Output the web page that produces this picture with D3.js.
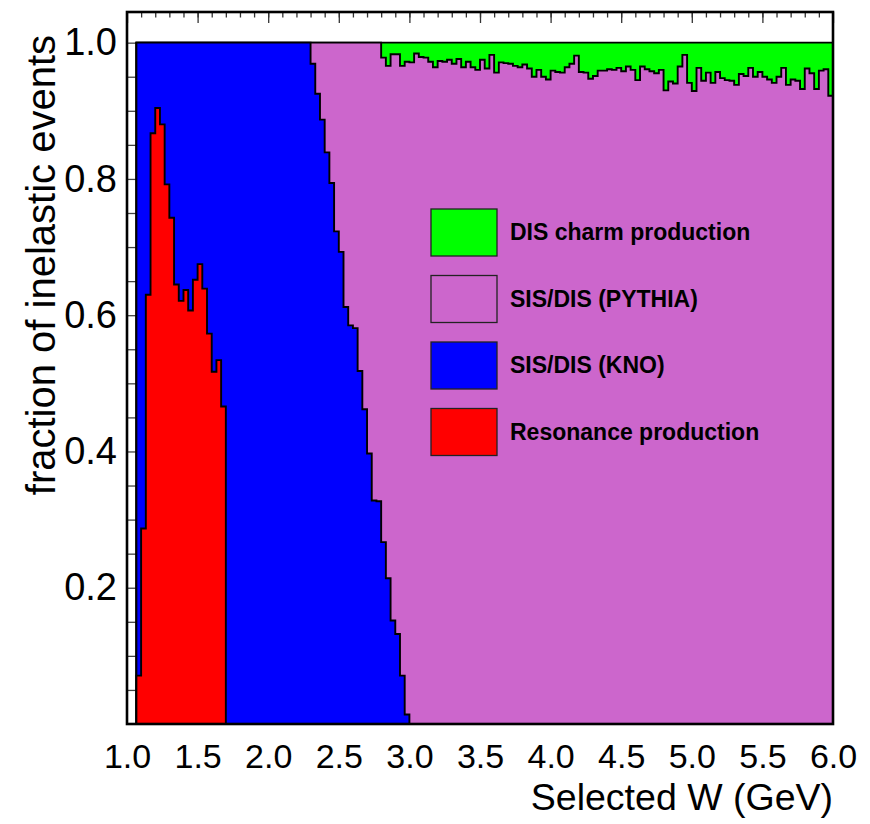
<!DOCTYPE html>
<html>
<head>
<meta charset="utf-8">
<script src="https://cdn.jsdelivr.net/npm/d3@7"></script>
<style>
  body { margin: 0; background: #fff; }
  svg { display: block; }
  text { font-family: "Liberation Sans", Arial, Helvetica, sans-serif; }
</style>
</head>
<body>
<svg id="chart" width="870" height="824"></svg>
<script>
// Histogram binning in W (GeV)
const wMin = 1.0, wMax = 6.0, nBins = 150;

// Fraction of inelastic events per bin, by process (each list starts at its first bin)
const resonanceFirstBin = 2;
const resonance = [0.071, 0.287, 0.630, 0.867, 0.904, 0.880, 0.792, 0.743, 0.645, 0.621,
                   0.637, 0.607, 0.652, 0.675, 0.639, 0.573, 0.517, 0.534, 0.466];

const knoFirstBin = 2;
const kno = [0.929, 0.713, 0.370, 0.133, 0.096, 0.120, 0.208, 0.257, 0.355, 0.379,
             0.363, 0.393, 0.348, 0.325, 0.361, 0.427, 0.483, 0.466, 0.534,
             1.000, 1.000, 1.000, 1.000, 1.000, 1.000, 1.000, 1.000, 1.000, 1.000,
             1.000, 1.000, 1.000, 1.000, 1.000, 1.000, 1.000, 1.000,
             0.969, 0.925, 0.887, 0.839, 0.794, 0.723, 0.693, 0.612, 0.585, 0.581,
             0.518, 0.462, 0.397, 0.328, 0.327, 0.267, 0.214, 0.152, 0.132, 0.071,
             0.014];

const pythiaFirstBin = 39;
const pythia = [0.031, 0.075, 0.113, 0.161, 0.206, 0.277, 0.307, 0.388, 0.415, 0.419,
                0.482, 0.538, 0.603, 0.672, 0.673,
                0.711, 0.752, 0.831, 0.851, 0.895, 0.958, 0.971, 0.984, 0.979, 0.978,
                0.972, 0.964, 0.973, 0.972, 0.975, 0.969, 0.976, 0.964, 0.972, 0.964,
                0.960, 0.975, 0.962, 0.982, 0.956, 0.971, 0.970, 0.969, 0.966, 0.964,
                0.968, 0.962, 0.950, 0.960, 0.950, 0.946, 0.959, 0.957, 0.956, 0.964,
                0.969, 0.981, 0.957, 0.956, 0.947, 0.951, 0.959, 0.959, 0.961, 0.960,
                0.963, 0.958, 0.965, 0.960, 0.945, 0.965, 0.961, 0.958, 0.955, 0.960,
                0.930, 0.943, 0.940, 0.965, 0.982, 0.941, 0.929, 0.963, 0.944, 0.956,
                0.941, 0.957, 0.948, 0.945, 0.944, 0.938, 0.954, 0.951, 0.963, 0.950,
                0.957, 0.950, 0.946, 0.941, 0.950, 0.963, 0.938, 0.946, 0.944, 0.932,
                0.962, 0.955, 0.932, 0.959, 0.961, 0.922];

const charmFirstBin = 54;
const charm = [0.022, 0.034, 0.017, 0.017, 0.034, 0.028, 0.029, 0.016, 0.021, 0.022,
               0.028, 0.036, 0.027, 0.028, 0.025, 0.031, 0.024, 0.036, 0.028, 0.036,
               0.040, 0.025, 0.038, 0.018, 0.044, 0.029, 0.030, 0.031, 0.034, 0.036,
               0.032, 0.038, 0.050, 0.040, 0.050, 0.054, 0.041, 0.043, 0.044, 0.036,
               0.031, 0.019, 0.043, 0.044, 0.053, 0.049, 0.041, 0.041, 0.039, 0.040,
               0.037, 0.042, 0.035, 0.040, 0.055, 0.035, 0.039, 0.042, 0.045, 0.040,
               0.070, 0.057, 0.060, 0.035, 0.018, 0.059, 0.071, 0.037, 0.056, 0.044,
               0.059, 0.043, 0.052, 0.055, 0.056, 0.062, 0.046, 0.049, 0.037, 0.050,
               0.043, 0.050, 0.054, 0.059, 0.050, 0.037, 0.062, 0.054, 0.056, 0.068,
               0.038, 0.045, 0.068, 0.041, 0.039, 0.078];

// Axis ticks and labels
const xLabelTicks = [1.0, 1.5, 2.0, 2.5, 3.0, 3.5, 4.0, 4.5, 5.0, 5.5, 6.0];
const xMinorTicks = d3.range(11, 60).map(v => v / 10);
const yLabelTicks = [0.2, 0.4, 0.6, 0.8, 1.0];
const yMinorTicks = d3.range(1, 21).map(v => v / 20);
const xTitle = "Selected W (GeV)";
const yTitle = "fraction of inelastic events";

// Stack order (bottom to top) and legend order (top to bottom)
const processes = [
  { key: "res",    label: "Resonance production", color: "#ff0000" },
  { key: "kno",    label: "SIS/DIS (KNO)",        color: "#0000ff" },
  { key: "pythia", label: "SIS/DIS (PYTHIA)",     color: "#cc66cc" },
  { key: "charm",  label: "DIS charm production", color: "#00ff00" }
];

const binWidth = (wMax - wMin) / nBins;
const at = (arr, first, i) => (i >= first && i - first < arr.length) ? arr[i - first] : 0;
const bins = d3.range(nBins).map(i => ({
  w0: wMin + i * binWidth,
  w1: wMin + (i + 1) * binWidth,
  res: at(resonance, resonanceFirstBin, i),
  kno: at(kno, knoFirstBin, i),
  pythia: at(pythia, pythiaFirstBin, i),
  charm: at(charm, charmFirstBin, i)
}));

const frame = { left: 127, right: 833, top: 12, bottom: 724 };
const x = d3.scaleLinear().domain([wMin, wMax]).range([frame.left, frame.right]);
const y = d3.scaleLinear().domain([0, 1.045]).range([frame.bottom, frame.top]);

const svg = d3.select("#chart");

// Tick marks sit under the histograms, as in the frame drawn first
svg.append("g")
  .attr("transform", `translate(0,${frame.top})`)
  .call(d3.axisTop(x).tickValues(xMinorTicks).tickSize(-5.5).tickFormat(""))
  .call(g => g.select(".domain").remove())
  .call(g => g.selectAll("line").attr("stroke", "#333").attr("stroke-width", 1.3));
svg.append("g")
  .attr("transform", `translate(0,${frame.top})`)
  .call(d3.axisTop(x).tickValues(xLabelTicks).tickSize(-11).tickFormat(""))
  .call(g => g.select(".domain").remove())
  .call(g => g.selectAll("line").attr("stroke", "#333").attr("stroke-width", 1.3));
svg.append("g")
  .attr("transform", `translate(${frame.left},0)`)
  .call(d3.axisRight(y).tickValues(yMinorTicks).tickSize(14).tickFormat(""))
  .call(g => g.select(".domain").remove())
  .call(g => g.selectAll("line").attr("stroke", "#444").attr("stroke-width", 1.3));

// Stacked step histograms, drawn from the top layer down
const stacked = d3.stack().keys(processes.map(p => p.key))(bins);
const line = d3.line();
stacked.slice().reverse().forEach(series => {
  const proc = processes.find(p => p.key === series.key);
  const pts = [[x(wMin), y(0)]];
  series.forEach((d, i) => {
    pts.push([x(bins[i].w0), y(d[1])]);
    pts.push([x(bins[i].w1), y(d[1])]);
  });
  pts.push([x(wMax), y(0)]);
  svg.append("path")
    .attr("d", line(pts) + "Z")
    .attr("fill", proc.color)
    .attr("stroke", "#000")
    .attr("stroke-width", 1.9)
    .attr("stroke-linejoin", "miter");
});

// Frame
svg.append("rect")
  .attr("x", frame.left).attr("y", frame.top)
  .attr("width", frame.right - frame.left).attr("height", frame.bottom - frame.top)
  .attr("fill", "none").attr("stroke", "#000").attr("stroke-width", 2.6);

// Tick labels
svg.append("g")
  .attr("transform", `translate(0,${frame.bottom})`)
  .call(d3.axisBottom(x).tickValues(xLabelTicks).tickSize(0).tickPadding(20).tickFormat(d3.format(".1f")))
  .call(g => g.select(".domain").remove())
  .call(g => g.selectAll("text").attr("font-size", 34).attr("fill", "#000")
              .attr("font-family", "Liberation Sans, Arial, sans-serif"));
svg.append("g")
  .attr("transform", `translate(${frame.left},0)`)
  .call(d3.axisLeft(y).tickValues(yLabelTicks).tickSize(0).tickPadding(10).tickFormat(d3.format(".1f")))
  .call(g => g.select(".domain").remove())
  .call(g => g.selectAll("text").attr("font-size", 38).attr("fill", "#000")
              .attr("font-family", "Liberation Sans, Arial, sans-serif"));

// Axis titles
svg.append("text")
  .attr("x", frame.right).attr("y", 810)
  .attr("text-anchor", "end").attr("font-size", 37.5)
  .text(xTitle);
svg.append("text")
  .attr("transform", "translate(55,35) rotate(-90)")
  .attr("text-anchor", "end").attr("font-size", 40)
  .text(yTitle);

// Legend
const legend = svg.append("g");
processes.slice().reverse().forEach((p, i) => {
  const top = 209 + i * 66.5;
  legend.append("rect")
    .attr("x", 431).attr("y", top).attr("width", 66).attr("height", 47)
    .attr("fill", p.color).attr("stroke", "#222").attr("stroke-width", 1.3);
  legend.append("text")
    .attr("x", 510).attr("y", top + 31)
    .attr("font-size", 23).attr("font-weight", "bold")
    .text(p.label);
});
</script>
</body>
</html>
